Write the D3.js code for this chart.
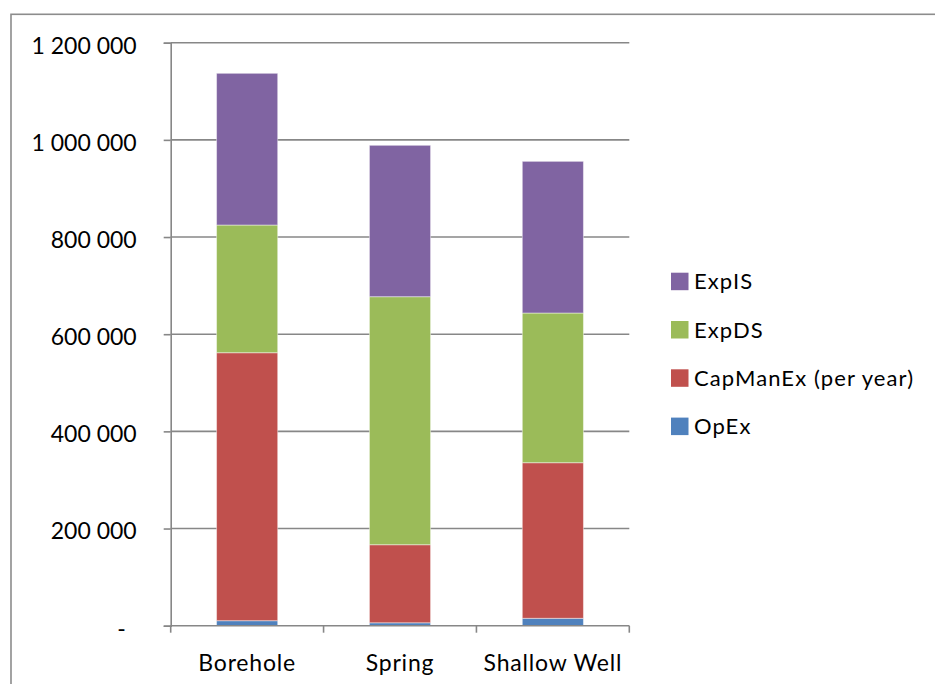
<!DOCTYPE html>
<html>
<head>
<meta charset="utf-8">
<script src="https://cdn.jsdelivr.net/npm/d3@7"></script>
<style>
  html, body { margin: 0; padding: 0; background: #fff; }
  svg { display: block; }
  text { font-family: Lato, "Open Sans", sans-serif; fill: #000; }
</style>
</head>
<body>
<svg id="chart" width="935" height="684"></svg>
<script>
// Annual cost per water source type, stacked by cost component
const categories = ["Borehole", "Spring", "Shallow Well"];
const seriesNames = ["OpEx", "CapManEx (per year)", "ExpDS", "ExpIS"];
const opEx      = [10300, 6000, 15200];
const capManEx  = [551600, 160700, 320300];
const expDS     = [262800, 510500, 308100];
const expIS     = [312300, 311600, 312200];
const yTicks    = [0, 200000, 400000, 600000, 800000, 1000000, 1200000];
const colors    = ["#4F81BD", "#C0504D", "#9BBB59", "#8064A2"];

const rows = categories.map((c, i) => ({
  category: c,
  "OpEx": opEx[i],
  "CapManEx (per year)": capManEx[i],
  "ExpDS": expDS[i],
  "ExpIS": expIS[i]
}));

const svg = d3.select("#chart");
const plotLeft = 170.7, plotRight = 629.3, plotTop = 42.7, plotBottom = 625.7;
const gridColor = "#878787";

// outer frame
svg.append("rect")
  .attr("x", 11).attr("y", 14.3)
  .attr("width", 940).attr("height", 700)
  .attr("fill", "none").attr("stroke", "#8c8c8c").attr("stroke-width", 1.6);

const x = d3.scaleBand().domain(categories).range([plotLeft, plotRight])
  .paddingInner(0.6).paddingOuter(0.3);
const y = d3.scaleLinear().domain([0, 1200000]).range([plotBottom, plotTop]);

const locale = d3.formatLocale({ decimal: ",", thousands: "\u00a0", grouping: [3], currency: ["", ""] });
const fmt = locale.format(",.0f");

// horizontal gridlines
svg.append("g").selectAll("line").data(yTicks.filter(t => t > 0)).join("line")
  .attr("x1", plotLeft).attr("x2", plotRight)
  .attr("y1", d => y(d)).attr("y2", d => y(d))
  .attr("stroke", gridColor).attr("stroke-width", 1.6);

// y axis
const yAxis = svg.append("g")
  .attr("transform", `translate(${plotLeft},0)`)
  .call(d3.axisLeft(y).tickValues(yTicks).tickSize(7).tickPadding(26)
    .tickFormat(d => d === 0 ? "-" : fmt(d)));
yAxis.select(".domain").attr("stroke", gridColor).attr("stroke-width", 1.6);
yAxis.selectAll(".tick line").attr("stroke", gridColor).attr("stroke-width", 1.6);
yAxis.selectAll(".tick text")
  .style("font-size", "23px").attr("dy", "0.45em")
  .attr("x", function (d) { return d === 0 ? -45 : -34; });

// stacked bars
const stack = d3.stack().keys(seriesNames);
const layers = stack(rows);
svg.append("g").selectAll("g").data(layers).join("g")
  .attr("fill", (d, i) => colors[i])
  .selectAll("rect").data(d => d).join("rect")
  .attr("x", d => x(d.data.category))
  .attr("width", x.bandwidth())
  .attr("y", d => y(d[1]))
  .attr("height", d => y(d[0]) - y(d[1]))
  .attr("stroke", "rgba(255,255,255,0.45)").attr("stroke-width", 1);

// x axis with ticks between categories
const xAxisG = svg.append("g");
xAxisG.append("line")
  .attr("x1", plotLeft).attr("x2", plotRight).attr("y1", plotBottom).attr("y2", plotBottom)
  .attr("stroke", gridColor).attr("stroke-width", 1.6);
const step = x.step();
const boundaries = d3.range(categories.length + 1).map(i => plotLeft + i * step);
xAxisG.selectAll("line.tk").data(boundaries).join("line").attr("class", "tk")
  .attr("x1", d => d).attr("x2", d => d)
  .attr("y1", plotBottom).attr("y2", plotBottom + 7)
  .attr("stroke", gridColor).attr("stroke-width", 1.6);
xAxisG.selectAll("text").data(categories).join("text")
  .attr("x", d => x(d) + x.bandwidth() / 2)
  .attr("y", 671)
  .attr("text-anchor", "middle")
  .style("font-size", "23px")
  .style("letter-spacing", "0.8px")
  .text(d => d);

// legend (top series first)
const legendItems = seriesNames.map((n, i) => ({ name: n, color: colors[i] })).reverse();
const lg = svg.append("g").selectAll("g").data(legendItems).join("g")
  .attr("transform", (d, i) => `translate(671, ${272.7 + i * 48.3})`);
lg.append("rect").attr("width", 17.5).attr("height", 17.5).attr("fill", d => d.color);
lg.append("text")
  .attr("x", 23).attr("y", 16.5)
  .style("font-size", "22px")
  .style("letter-spacing", "1.1px")
  .text(d => d.name);
</script>
</body>
</html>
